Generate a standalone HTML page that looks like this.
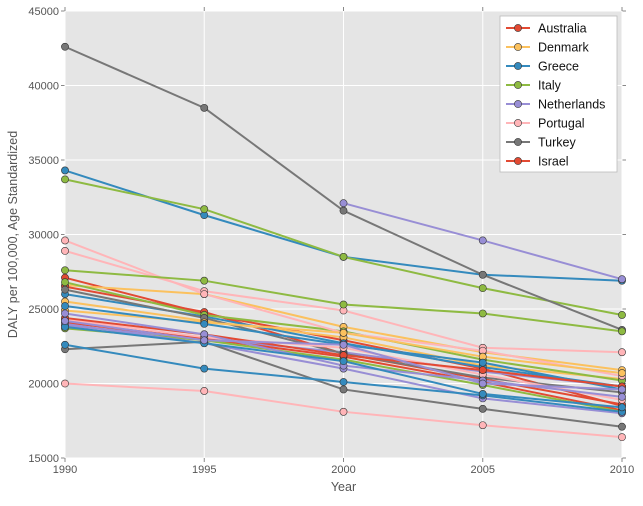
<!DOCTYPE html>
<html><head><meta charset="utf-8"><style>
body{margin:0;background:#fff;font-family:"Liberation Sans",sans-serif}
</style></head><body>
<svg id="chart" width="643" height="501" xmlns="http://www.w3.org/2000/svg"></svg>
<script>
const years=[1990,1995,2000,2005,2010];
const yTicks=[15000,20000,25000,30000,35000,40000,45000];
const colors=["#E24A33","#FBC15E","#348ABD","#8EBA42","#988ED5","#FFB5B8","#777777"];
const legendLabels=["Australia","Denmark","Greece","Italy","Netherlands","Portugal","Turkey","Israel"];
const s0=[27100,24700,22900,21000,18500];
const s1=[26600,26000,23800,22100,20900];
const s2=[34300,31300,28500,27300,26900];
const s3=[33700,31700,28500,26400,24600];
const s4=[null,null,32100,29600,27000];
const s5=[28900,26200,24900,22400,22100];
const s6=[42600,38500,31600,27300,23600];
const s7=[26500,24800,22000,20300,18600];
const s8=[25500,24200,23100,21200,20300];
const s9=[26000,24500,22700,21100,19800];
const s10=[26800,24600,23500,21600,20200];
const s11=[23900,23000,22100,20800,19800];
const s12=[29600,26000,23400,22200,20500];
const s13=[26300,24400,22000,20400,19400];
const s14=[24100,23000,21800,20100,18200];
const s15=[24900,24100,23400,21800,20700];
const s16=[25200,24000,22600,21400,19600];
const s17=[23700,22900,21600,19900,18100];
const s18=[24000,22700,21000,19000,18000];
const s19=[24300,23100,22400,20600,18900];
const s20=[20000,19500,18100,17200,16400];
const s21=[22300,22800,19600,18300,17100];
const s22=[24400,23300,21900,20900,19800];
const s23=[22600,21000,20100,19200,18100];
const s24=[27600,26900,25300,24700,23500];
const s25=[24700,23300,21200,20200,19100];
const s26=[23800,22700,21500,19300,18400];
const s27=[24200,22900,22600,20000,19600];
const series=[s0,s1,s2,s3,s4,s5,s6,s7,s8,s9,s10,s11,s12,s13,s14,s15,s16,s17,s18,s19,s20,s21,s22,s23,s24,s25,s26,s27];
const seriesColors=[0,1,2,3,4,5,6,0,1,2,3,4,5,6,0,1,2,3,4,5,5,6,0,2,3,4,2,4];
const L=65,R=622,T=11,B=458;
const xs=y=>L+(y-1990)/20*(R-L);
const ys=v=>B-(v-15000)/30000*(B-T);
const svg=document.getElementById('chart');
const NS="http://www.w3.org/2000/svg";
function mk(t,a,p){const e=document.createElementNS(NS,t);for(const k in a)e.setAttribute(k,a[k]);(p||svg).appendChild(e);return e;}
const bg=mk('rect',{x:L,y:T,width:R-L,height:B-T,fill:'#E5E5E5'});


yTicks.forEach(v=>{
 const g=mk('line',{x1:L,x2:R,y1:ys(v),y2:ys(v),stroke:'#fff','stroke-width':1});
 
 
 mk('line',{x1:L-4,x2:L,y1:ys(v),y2:ys(v),stroke:'#888'});
 mk('line',{x1:R,x2:R+4,y1:ys(v),y2:ys(v),stroke:'#888'});
 const t=mk('text',{x:L-6,y:ys(v)+4,'text-anchor':'end','font-size':11,fill:'#555'});
 t.textContent=v;
 
 
});
years.forEach(y=>{
 const g=mk('line',{x1:xs(y),x2:xs(y),y1:T,y2:B,stroke:'#fff','stroke-width':1});
 
 
 mk('line',{x1:xs(y),x2:xs(y),y1:B,y2:B+4,stroke:'#888'});
 mk('line',{x1:xs(y),x2:xs(y),y1:T-4,y2:T,stroke:'#888'});
 const t=mk('text',{x:xs(y),y:B+15,'text-anchor':'middle','font-size':11,fill:'#555'});
 t.textContent=y;
 
 
});
series.forEach((s,i)=>{
 const c=colors[seriesColors[i]];
 const g=mk('g',{});
 
 
 const pts=[];s.forEach((v,j)=>{if(v!=null)pts.push([xs(years[j]),ys(v)]);});
 mk('polyline',{points:pts.map(p=>p.join(',')).join(' '),fill:'none',stroke:c,'stroke-width':2},g);
 pts.forEach(p=>{
  const m=mk('circle',{cx:p[0],cy:p[1],r:3.6,fill:c,stroke:'#333','stroke-width':0.6},g);
  
  
 });
});
const lg=mk('g',{});


mk('rect',{x:500,y:16,width:117,height:156,fill:'#fff',stroke:'#bbb','stroke-width':0.8},lg);
legendLabels.forEach((n,i)=>{
 const c=colors[i%7],y=28+i*19;
 const e=mk('g',{},lg);
 
 
 mk('line',{x1:506,x2:530,y1:y,y2:y,stroke:c,'stroke-width':2},e);
 mk('circle',{cx:518,cy:y,r:3.6,fill:c,stroke:'#333','stroke-width':0.6},e);
 const t=mk('text',{x:538,y:y+4.5,'font-size':12.5,fill:'#111'},e);t.textContent=n;
});
const xt=mk('text',{x:(L+R)/2,y:491,'text-anchor':'middle','font-size':12.5,fill:'#555'});
xt.textContent='Year';


const yt=mk('text',{x:0,y:0,'text-anchor':'middle','font-size':12.5,fill:'#555',transform:`translate(17,${(T+B)/2}) rotate(-90)`});
yt.textContent='DALY per 100,000, Age Standardized';


</script>
</body></html>
